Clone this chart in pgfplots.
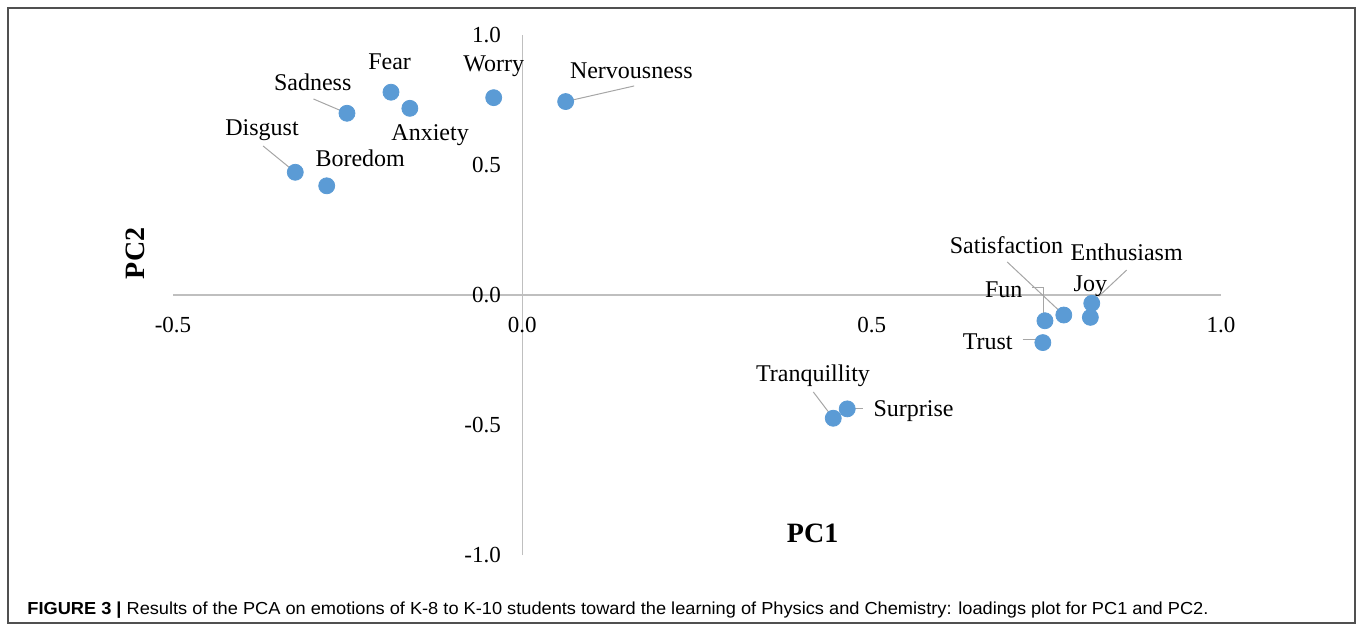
\documentclass[border=0pt]{standalone}
\usepackage{pgfplots}
\pgfplotsset{compat=1.18}
\usepackage{graphicx}
\usepackage{fontspec}
\setmainfont{Liberation Serif}
\newfontfamily\capfont{Liberation Sans}
\definecolor{ptblue}{HTML}{5B9BD5}
\definecolor{axgray}{HTML}{BFBFBF}
\definecolor{leadgray}{HTML}{A6A6A6}
\definecolor{framegray}{HTML}{505050}

\pgfplotstableread{
x       y
-0.325  0.472
-0.280  0.420
-0.251  0.699
-0.188  0.780
-0.161  0.718
-0.041  0.759
 0.062  0.744
 0.815 -0.032
 0.813 -0.086
 0.775 -0.077
 0.748 -0.099
 0.745 -0.183
 0.445 -0.474
 0.465 -0.438
}\loadings

\begin{document}
\begin{tikzpicture}
\useasboundingbox (0,0) rectangle (679pt,-315.5pt);
\draw[framegray, line width=0.7pt] (4pt,-4pt) rectangle (677.5pt,-311.5pt);
\begin{axis}[
  at={(86.5pt,-277.5pt)}, anchor=south west,
  width=524pt, height=260pt, scale only axis,
  xmin=-0.5, xmax=1.0, ymin=-1.0, ymax=1.0,
  axis lines=middle,
  axis line style={-, draw=axgray, line width=0.75pt},
  every inner x axis line/.append style={-},
  every inner y axis line/.append style={-},
  hide obscured x ticks=false, hide obscured y ticks=false,
  xtick={-0.5,0,0.5,1}, xticklabels={-0.5,0.0,0.5,1.0},
  ytick={-1,-0.5,0,0.5,1}, yticklabels={-1.0,-0.5,0.0,0.5,1.0},
  major tick length=0pt,
  xticklabel style={anchor=center, yshift=-15pt, font=\fontsize{11.5}{13}\selectfont},
  yticklabel style={anchor=east, xshift=-7.2pt, font=\fontsize{11.5}{13}\selectfont},
  clip=false,
]
% leader lines
\draw[leadgray, line width=0.5pt] (axis cs:-0.371,0.573) -- (axis cs:-0.325,0.472);
\draw[leadgray, line width=0.5pt] (axis cs:-0.299,0.754) -- (axis cs:-0.251,0.699);
\draw[leadgray, line width=0.5pt] (axis cs:0.062,0.744) -- (axis cs:0.160,0.804);
\draw[leadgray, line width=0.5pt] (axis cs:0.694,0.127) -- (axis cs:0.775,-0.077);
\draw[leadgray, line width=0.5pt] (axis cs:0.865,0.096) -- (axis cs:0.825,-0.005);
\draw[leadgray, line width=0.5pt] (axis cs:0.730,0.027) -- (axis cs:0.746,0.027) -- (axis cs:0.746,-0.099);
\draw[leadgray, line width=0.5pt] (axis cs:0.716,-0.170) -- (axis cs:0.742,-0.170);
\draw[leadgray, line width=0.5pt] (axis cs:0.4165,-0.373) -- (axis cs:0.445,-0.474);
\draw[leadgray, line width=0.5pt] (axis cs:0.465,-0.438) -- (axis cs:0.488,-0.438);

\addplot[only marks, mark=*, mark size=4pt, mark options={fill=ptblue, draw=ptblue}] table[x=x, y=y] {\loadings};

% point labels
\begin{scope}[every node/.style={font=\fontsize{12}{14}\selectfont, inner sep=0pt}]
\node at (axis cs:-0.3726,0.635) {Disgust};
\node at (axis cs:-0.300,0.818) {Sadness};
\node at (axis cs:-0.190,0.897) {Fear};
\node at (axis cs:-0.041,0.878) {Worry};
\node at (axis cs:-0.132,0.615) {Anxiety};
\node at (axis cs:-0.232,0.526) {Boredom};
\node at (axis cs:0.156,0.862) {Nervousness};
\node at (axis cs:0.693,0.192) {Satisfaction};
\node at (axis cs:0.865,0.163) {Enthusiasm};
\node at (axis cs:0.813,0.032) {Joy};
\node at (axis cs:0.689,0.019) {Fun};
\node at (axis cs:0.666,-0.180) {Trust};
\node at (axis cs:0.416,-0.312) {Tranquillity};
\node at (axis cs:0.560,-0.445) {Surprise};
\end{scope}
\node[font=\fontsize{14}{16}\selectfont\bfseries] at (axis cs:0.4155,-0.9165) {PC1};
\node[font=\fontsize{14}{16}\selectfont\bfseries, rotate=90] at (axis cs:-0.554,0.160) {PC2};
\end{axis}
\node[anchor=base west, inner sep=0pt] at (13.5pt,-307.4pt)
  {\resizebox{590.5pt}{\height}{\capfont\fontsize{8.7}{10}\selectfont\textbf{FIGURE 3 |} Results of the PCA on emotions of K-8 to K-10 students toward the learning of Physics and Chemistry: loadings plot for PC1 and PC2.}};
\end{tikzpicture}
\end{document}
